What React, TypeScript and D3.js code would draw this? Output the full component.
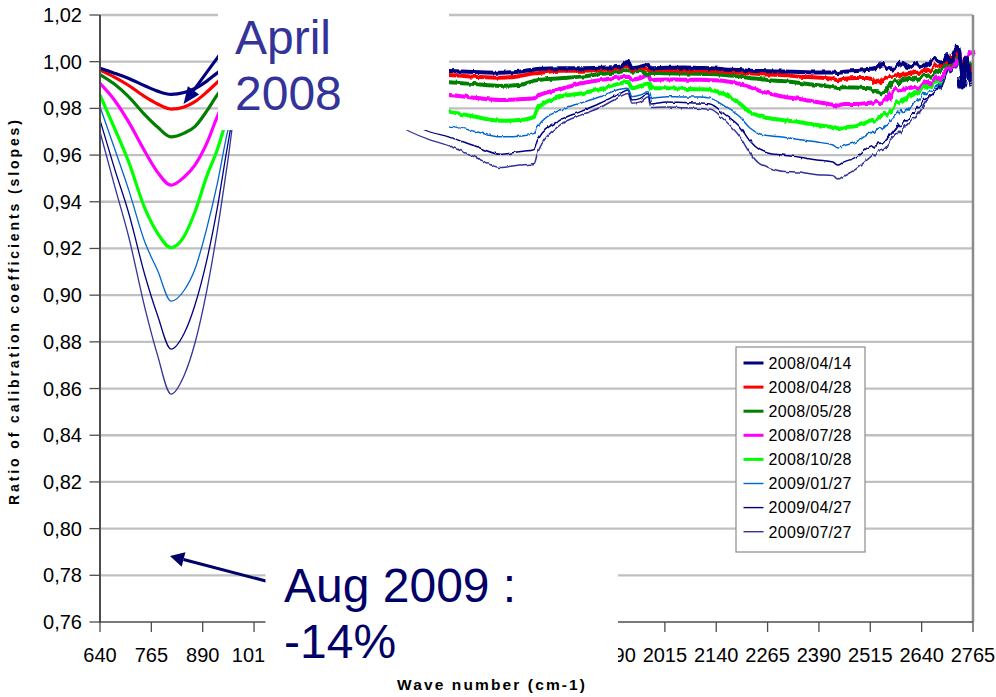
import React from 'react';
import * as d3 from 'd3';

const WAVENUMBERS = [
  640, 675, 710, 750, 780, 813, 845, 871, 900, 925, 950, 975,
  1000, 1100, 1200, 1300, 1350, 1395, 1440, 1490,
  1550, 1614, 1660, 1697, 1705, 1760, 1810, 1857, 1906, 1925,
  1935, 1955, 1975, 1980, 2020, 2060, 2100, 2125, 2160, 2198,
  2222, 2247, 2265, 2300, 2344, 2385, 2424, 2436, 2450, 2480,
  2507, 2531, 2550, 2570, 2590, 2608, 2626, 2647, 2668, 2690,
  2700, 2709, 2720, 2728, 2734, 2740, 2745, 2750, 2758, 2765,
];

const SERIES_NAMES = [
  '2008/04/14', '2008/04/28', '2008/05/28', '2008/07/28',
  '2008/10/28', '2009/01/27', '2009/04/27', '2009/07/27',
];

const S_20080414 = [
  0.9972, 0.9951, 0.9928, 0.9896, 0.9874, 0.9860, 0.9868, 0.9885, 0.9917, 0.9951, 0.9981, 1.0007,
  1.0016, 1.0007, 0.9999, 0.9986, 0.9977, 0.9969, 0.9964, 0.9960,
  0.9956, 0.9953, 0.9957, 0.9967, 0.9969, 0.9972, 0.9972, 0.9974, 0.9978, 1.0000,
  0.9972, 0.9978, 0.9986, 0.9972, 0.9974, 0.9975, 0.9973, 0.9972, 0.9967, 0.9964,
  0.9961, 0.9960, 0.9959, 0.9958, 0.9956, 0.9954, 0.9954, 0.9951, 0.9956, 0.9960,
  0.9964, 0.9969, 0.9981, 0.9969, 0.9986, 0.9973, 0.9994, 0.9981, 1.0007, 0.9994,
  1.0024, 1.0007, 1.0050, 1.0063, 0.9999, 0.9896, 0.9981, 1.0016, 0.9921, 0.9956,
];
const S_20080428 = [
  0.9964, 0.9934, 0.9898, 0.9849, 0.9819, 0.9797, 0.9806, 0.9829, 0.9870, 0.9911, 0.9947, 0.9981,
  0.9999, 0.9994, 0.9986, 0.9973, 0.9964, 0.9956, 0.9949, 0.9943,
  0.9936, 0.9931, 0.9938, 0.9950, 0.9951, 0.9961, 0.9961, 0.9964, 0.9972, 0.9986,
  0.9964, 0.9972, 0.9964, 0.9967, 0.9964, 0.9963, 0.9962, 0.9961, 0.9957, 0.9953,
  0.9950, 0.9947, 0.9945, 0.9943, 0.9936, 0.9932, 0.9926, 0.9921, 0.9926, 0.9930,
  0.9930, 0.9921, 0.9926, 0.9938, 0.9943, 0.9947, 0.9956, 0.9960, 0.9973, 0.9990,
  0.9999, 1.0024, 1.0033, 1.0050, 1.0007, 0.9921, 0.9999, 0.9990, 0.9956, 0.9981,
];
const S_20080528 = [
  0.9945, 0.9904, 0.9849, 0.9771, 0.9720, 0.9678, 0.9694, 0.9722, 0.9789, 0.9857, 0.9913, 0.9956,
  0.9981, 0.9981, 0.9973, 0.9956, 0.9943, 0.9930, 0.9921, 0.9912,
  0.9904, 0.9896, 0.9900, 0.9918, 0.9921, 0.9929, 0.9936, 0.9947, 0.9957, 0.9964,
  0.9957, 0.9960, 0.9943, 0.9953, 0.9950, 0.9949, 0.9948, 0.9947, 0.9943, 0.9936,
  0.9930, 0.9926, 0.9921, 0.9917, 0.9909, 0.9900, 0.9891, 0.9887, 0.9891, 0.9889,
  0.9887, 0.9879, 0.9866, 0.9904, 0.9921, 0.9926, 0.9930, 0.9938, 0.9943, 0.9973,
  0.9986, 1.0007, 1.0029, 1.0033, 0.9999, 0.9938, 0.9990, 0.9999, 0.9964, 0.9999,
];
const S_20080728 = [
  0.9907, 0.9836, 0.9741, 0.9613, 0.9527, 0.9471, 0.9506, 0.9557, 0.9651, 0.9763, 0.9857, 0.9921,
  0.9964, 0.9956, 0.9938, 0.9913, 0.9896, 0.9879, 0.9866, 0.9857,
  0.9846, 0.9836, 0.9839, 0.9843, 0.9853, 0.9882, 0.9907, 0.9921, 0.9933, 0.9936,
  0.9924, 0.9929, 0.9943, 0.9921, 0.9924, 0.9923, 0.9923, 0.9921, 0.9917, 0.9904,
  0.9891, 0.9874, 0.9866, 0.9851, 0.9840, 0.9827, 0.9816, 0.9812, 0.9819, 0.9819,
  0.9823, 0.9827, 0.9831, 0.9870, 0.9883, 0.9887, 0.9891, 0.9904, 0.9921, 0.9938,
  0.9964, 0.9981, 1.0007, 1.0024, 1.0007, 0.9956, 1.0007, 1.0016, 1.0041, 1.0029,
];
const S_20081028 = [
  0.9857, 0.9716, 0.9570, 0.9368, 0.9266, 0.9203, 0.9253, 0.9356, 0.9510, 0.9621, 0.9759, 0.9857,
  0.9943, 0.9938, 0.9913, 0.9870, 0.9844, 0.9819, 0.9801, 0.9786,
  0.9765, 0.9747, 0.9750, 0.9764, 0.9800, 0.9850, 0.9864, 0.9882, 0.9907, 0.9914,
  0.9886, 0.9896, 0.9907, 0.9886, 0.9886, 0.9884, 0.9882, 0.9879, 0.9861, 0.9819,
  0.9784, 0.9767, 0.9759, 0.9750, 0.9741, 0.9729, 0.9718, 0.9711, 0.9718, 0.9724,
  0.9741, 0.9759, 0.9771, 0.9806, 0.9827, 0.9849, 0.9866, 0.9887, 0.9909, 0.9934,
  0.9964, 0.9999, 1.0016, 1.0024, 0.9990, 0.9930, 0.9964, 0.9981, 0.9956, 0.9964,
];
const S_20090127 = [
  0.9807, 0.9630, 0.9450, 0.9223, 0.9107, 0.8974, 0.9021, 0.9111, 0.9287, 0.9473, 0.9696, 0.9857,
  0.9930, 0.9900, 0.9857, 0.9801, 0.9776, 0.9750, 0.9733, 0.9724,
  0.9703, 0.9678, 0.9681, 0.9693, 0.9721, 0.9793, 0.9822, 0.9850, 0.9882, 0.9886,
  0.9850, 0.9857, 0.9871, 0.9843, 0.9850, 0.9849, 0.9849, 0.9844, 0.9810, 0.9763,
  0.9716, 0.9690, 0.9684, 0.9677, 0.9666, 0.9656, 0.9643, 0.9630, 0.9639, 0.9656,
  0.9686, 0.9707, 0.9720, 0.9759, 0.9784, 0.9810, 0.9831, 0.9861, 0.9887, 0.9921,
  0.9951, 0.9981, 1.0007, 1.0016, 0.9973, 0.9904, 0.9947, 0.9956, 0.9921, 0.9938,
];
const S_20090427 = [
  0.9750, 0.9544, 0.9351, 0.9081, 0.8914, 0.8769, 0.8837, 0.8957, 0.9150, 0.9368, 0.9634, 0.9857,
  0.9921, 0.9887, 0.9836, 0.9784, 0.9759, 0.9733, 0.9701, 0.9677,
  0.9641, 0.9604, 0.9614, 0.9624, 0.9664, 0.9750, 0.9786, 0.9822, 0.9864, 0.9879,
  0.9836, 0.9843, 0.9864, 0.9819, 0.9827, 0.9825, 0.9823, 0.9819, 0.9776, 0.9720,
  0.9660, 0.9621, 0.9609, 0.9600, 0.9591, 0.9579, 0.9570, 0.9557, 0.9570, 0.9591,
  0.9630, 0.9647, 0.9656, 0.9690, 0.9733, 0.9767, 0.9793, 0.9836, 0.9870, 0.9913,
  0.9938, 0.9973, 0.9999, 1.0007, 0.9964, 0.9896, 0.9938, 0.9947, 0.9904, 0.9913,
];
const S_20090727 = [
  0.9700, 0.9471, 0.9249, 0.8940, 0.8743, 0.8576, 0.8657, 0.8794, 0.9021, 0.9270, 0.9561, 0.9853,
  0.9913, 0.9879, 0.9819, 0.9771, 0.9741, 0.9700, 0.9667, 0.9639,
  0.9594, 0.9547, 0.9557, 0.9564, 0.9609, 0.9729, 0.9771, 0.9804, 0.9850, 0.9864,
  0.9822, 0.9828, 0.9850, 0.9804, 0.9806, 0.9803, 0.9799, 0.9797, 0.9750, 0.9677,
  0.9609, 0.9561, 0.9549, 0.9531, 0.9527, 0.9516, 0.9512, 0.9497, 0.9510, 0.9540,
  0.9579, 0.9613, 0.9626, 0.9669, 0.9707, 0.9741, 0.9767, 0.9819, 0.9870, 0.9904,
  0.9930, 0.9964, 0.9990, 0.9999, 0.9956, 0.9887, 0.9930, 0.9938, 0.9896, 0.9900,
];

const SERIES_VALUES = [
  S_20080414, S_20080428, S_20080528, S_20080728,
  S_20081028, S_20090127, S_20090427, S_20090727,
];

const X_TICKS = [640, 765, 890, 1015, 1140, 1265, 1390, 1515, 1640, 1765, 1890, 2015, 2140, 2265, 2390, 2515, 2640, 2765];
const Y_TICKS = [0.76, 0.78, 0.80, 0.82, 0.84, 0.86, 0.88, 0.90, 0.92, 0.94, 0.96, 0.98, 1.00, 1.02];

const STYLES = [
  { color: '#000080', thick: true },
  { color: '#ff0000', thick: true },
  { color: '#008000', thick: true },
  { color: '#ff00ff', thick: true },
  { color: '#00ff00', thick: true },
  { color: '#0066cc', thick: false },
  { color: '#000080', thick: false },
  { color: '#333399', thick: false },
];

const FONT = '"Liberation Sans", Arial, Helvetica, sans-serif';

// white boxes pasted over the chart
const TOP_BOX = { x: 218, y: 0, w: 231, h: 130 };
const BOTTOM_BOX = { x: 265.5, y: 548, w: 352.5, h: 122 };

function arrowShape(x1: number, y1: number, x2: number, y2: number, len: number, half: number) {
  const dx = x2 - x1, dy = y2 - y1;
  const L = Math.hypot(dx, dy);
  const ux = dx / L, uy = dy / L;
  const bx = x2 - ux * len, by = y2 - uy * len;
  const nx = -uy, ny = ux;
  const pts = [
    [x2, y2],
    [bx + nx * half, by + ny * half],
    [bx - nx * half, by - ny * half],
  ].map(p => p.join(',')).join(' ');
  return { bx, by, pts };
}

export default function App() {
  const left = 100, right = 973, top = 15, bottom = 622;
  const x = d3.scaleLinear().domain([640, 2765]).range([left, right]);
  const y = d3.scaleLinear().domain([0.76, 1.02]).range([bottom, top]);
  const fmt = (v: number) => d3.format('.2f')(v).replace('.', ',');

  const line = d3.line<number>()
    .x((_, i) => x(WAVENUMBERS[i]))
    .y(d => y(d))
    .curve(d3.curveMonotoneX);

  const a1 = arrowShape(226, 46, 183.5, 104, 17, 7);
  const a2 = arrowShape(285, 586, 170, 556, 14, 7.5);

  const order = [7, 6, 5, 4, 3, 2, 1, 0];
  const splitA = TOP_BOX.x + TOP_BOX.w; // 449
  const splitB = 872;

  const makePaths = (thickW: number, thinW: number) => order.map(i => (
    <path key={'s' + i} d={line(SERIES_VALUES[i]) || ''} fill="none"
      stroke={STYLES[i].color} strokeWidth={STYLES[i].thick ? thickW : thinW} strokeLinejoin="round" />
  ));

  const labelVisible = (t: number) => {
    const c = x(t);
    return c - 22 < BOTTOM_BOX.x || c + 22 > BOTTOM_BOX.x + BOTTOM_BOX.w;
  };

  return (
    <svg width={996} height={697} style={{ position: 'absolute', left: 0, top: 0, background: '#fff' }}
      fontFamily={FONT}>
      <defs>
        <clipPath id="clipL"><rect x={0} y={0} width={splitA} height={697} /></clipPath>
        <clipPath id="clipM"><rect x={splitA} y={0} width={splitB - splitA} height={697} /></clipPath>
        <clipPath id="clipR"><rect x={splitB} y={0} width={996 - splitB} height={697} /></clipPath>
        <filter id="noiseM" x={0} y={0} width={996} height={697} filterUnits="userSpaceOnUse">
          <feTurbulence type="fractalNoise" baseFrequency="0.22 0.05" numOctaves={2} seed={4} result="n" />
          <feDisplacementMap in="SourceGraphic" in2="n" scale={3.2} xChannelSelector="R" yChannelSelector="G" />
        </filter>
        <filter id="noiseR" x={0} y={0} width={996} height={697} filterUnits="userSpaceOnUse">
          <feTurbulence type="fractalNoise" baseFrequency="0.18 0.04" numOctaves={2} seed={9} result="n" />
          <feDisplacementMap in="SourceGraphic" in2="n" scale={10} xChannelSelector="R" yChannelSelector="G" />
        </filter>
      </defs>
      <rect x={0} y={0} width={996} height={697} fill="#fff" />
      {/* gridlines */}
      {Y_TICKS.filter(t => t > 0.765).map(t => (
        <line key={'g' + t} x1={left} x2={right} y1={y(t)} y2={y(t)} stroke="#c0c0c0" strokeWidth={2.3} />
      ))}
      {/* series */}
      <g clipPath="url(#clipL)">{makePaths(3.2, 1.3)}</g>
      <g clipPath="url(#clipM)"><g filter="url(#noiseM)">{makePaths(4, 1.5)}</g></g>
      <g clipPath="url(#clipR)"><g filter="url(#noiseR)">{makePaths(4.4, 1.8)}</g></g>
      {/* right border */}
      <line x1={right} x2={right} y1={top} y2={bottom} stroke="#8c8c8c" strokeWidth={2.5} />
      {/* y axis */}
      <line x1={left} x2={left} y1={top} y2={bottom + 1} stroke="#4d4d4d" strokeWidth={2} />
      {Y_TICKS.map(t => (
        <g key={'yt' + t}>
          <line x1={89.5} x2={left} y1={y(t)} y2={y(t)} stroke="#4d4d4d" strokeWidth={1.3} />
          <text x={82} y={y(t) + 7} fontSize={20} textAnchor="end" fill="#000">{fmt(t)}</text>
        </g>
      ))}
      {/* x axis */}
      <line x1={left} x2={right} y1={bottom} y2={bottom} stroke="#4d4d4d" strokeWidth={1.5} />
      {X_TICKS.map(t => (
        <g key={'xt' + t}>
          <line x1={x(t)} x2={x(t)} y1={bottom} y2={bottom + 10} stroke="#4d4d4d" strokeWidth={1.3} />
          {labelVisible(t) && (
            <text x={x(t)} y={661.5} fontSize={20} textAnchor="middle" fill="#000">{t}</text>
          )}
        </g>
      ))}
      {/* legend */}
      <rect x={736} y={347} width={129} height={205} fill="#fff" stroke="#8c8c8c" strokeWidth={1.2} />
      {SERIES_NAMES.map((n, i) => {
        const yy = 363 + i * 24.1;
        return (
          <g key={'l' + i}>
            <line x1={743.5} x2={763.5} y1={yy} y2={yy} stroke={STYLES[i].color}
              strokeWidth={STYLES[i].thick ? 3 : 1.4} />
            <text x={768.5} y={yy + 5.8} fontSize={16} fill="#000" textLength={83} lengthAdjust="spacing">{n}</text>
          </g>
        );
      })}
      {/* arrows */}
      <line x1={226} y1={46} x2={a1.bx} y2={a1.by} stroke="#000080" strokeWidth={3} />
      <polygon points={a1.pts} fill="#000080" />
      <line x1={285} y1={586} x2={a2.bx} y2={a2.by} stroke="#000066" strokeWidth={3} />
      <polygon points={a2.pts} fill="#000066" />
      {/* white annotation boxes */}
      <rect x={TOP_BOX.x} y={TOP_BOX.y} width={TOP_BOX.w} height={TOP_BOX.h} fill="#fff" />
      <rect x={BOTTOM_BOX.x} y={BOTTOM_BOX.y} width={BOTTOM_BOX.w} height={BOTTOM_BOX.h} fill="#fff" />
      {/* annotation texts */}
      <text x={235} y={53.5} fontSize={48} fill="#333399">April</text>
      <text x={235} y={110} fontSize={48} fill="#333399">2008</text>
      <text x={284} y={601.5} fontSize={48} fill="#000066">Aug 2009 :</text>
      <text x={284} y={658} fontSize={48} fill="#000066">-14%</text>
      {/* axis titles */}
      <text transform="translate(18.5,312.5) rotate(-90)" fontSize={14} fontWeight="bold" textAnchor="middle"
        fill="#000" textLength={385} lengthAdjust="spacing">Ratio of calibration coefficients (slopes)</text>
      <text x={491} y={689.5} fontSize={15.5} fontWeight="bold" textAnchor="middle" fill="#000"
        textLength={188} lengthAdjust="spacing">Wave number (cm-1)</text>
    </svg>
  );
}
